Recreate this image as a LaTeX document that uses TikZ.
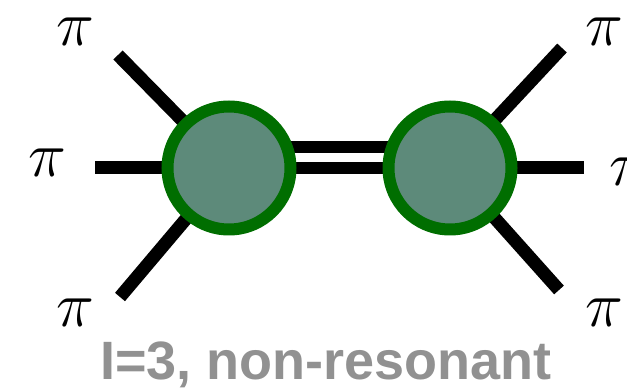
\documentclass[tikz,border=0pt]{standalone}
\usepackage{fix-cm}
\usepackage{fontspec}
\newfontfamily\labfont{Liberation Sans}
\usetikzlibrary{backgrounds}
\definecolor{blobfill}{RGB}{93,138,122}
\definecolor{blobring}{RGB}{0,110,0}
\definecolor{labgray}{RGB}{145,145,145}
\begin{document}
\begin{tikzpicture}[x=1pt,y=1pt,
  blob/.style={circle,draw=blobring,line width=12pt,fill=blobfill,minimum size=123pt,inner sep=0pt},
  leg/.style={line width=13pt,black},
  pilab/.style={inner sep=0pt,font=\fontsize{64}{70}\selectfont}]
\useasboundingbox (0,0) rectangle (627,391);
\node[blob] (L) at (229,223) {};
\node[blob] (R) at (450,223) {};
\coordinate (ul) at (118,336);
\coordinate (ml) at (95,223);
\coordinate (ll) at (120,94);
\coordinate (ur) at (562,343);
\coordinate (mr) at (584,223);
\coordinate (lr) at (559,101);
\begin{scope}[on background layer]
\draw[leg] (L.center) -- (ul);
\draw[leg] (L.center) -- (ml);
\draw[leg] (L.center) -- (ll);
\draw[leg] (R.center) -- (ur);
\draw[leg] (R.center) -- (mr);
\draw[leg] (R.center) -- (lr);
\draw[line width=12pt] (L.center) -- (R.center);
\draw[line width=12pt] ([yshift=21pt]L.center) -- ([yshift=21pt]R.center);
\end{scope}
\node[pilab] (p1) at (75,359) {$\pi$};
\node[pilab] (p2) at (47,228) {$\pi$};
\node[pilab] (p3) at (75,78) {$\pi$};
\node[pilab] (p4) at (604,359) {$\pi$};
\node[pilab] (p5) at (628,219) {$\pi$};
\node[pilab] (p6) at (604,78) {$\pi$};
\node[anchor=base,inner sep=0pt,text=labgray,font=\labfont\bfseries\fontsize{54}{60}\selectfont] (cap) at (326,11) {I=3, non-resonant};
\end{tikzpicture}
\end{document}
